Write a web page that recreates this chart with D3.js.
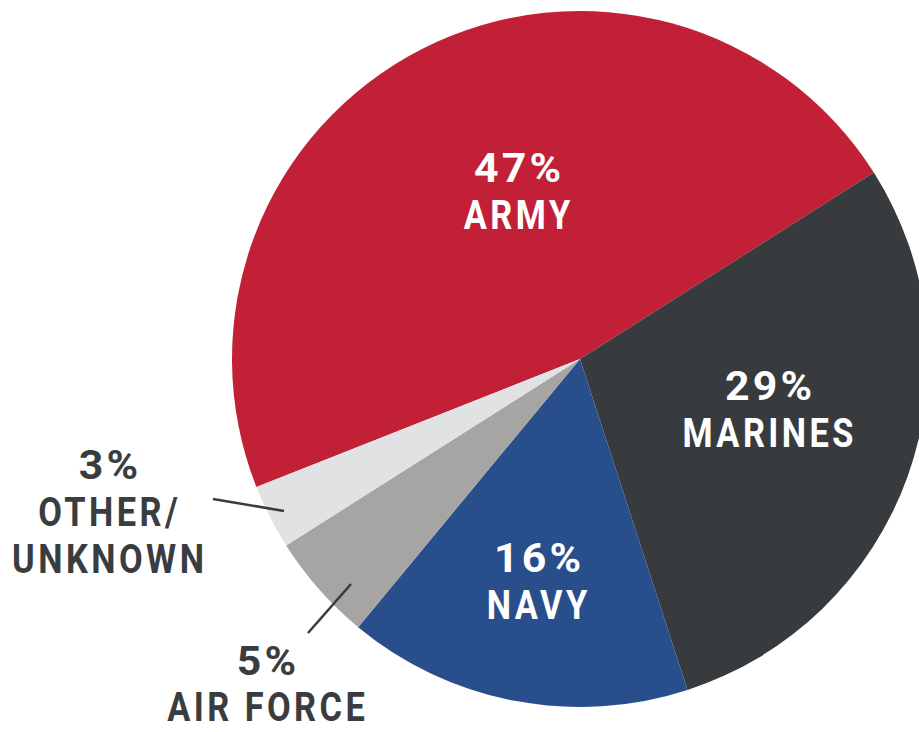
<!DOCTYPE html>
<html>
<head>
<meta charset="utf-8">
<script src="https://cdn.jsdelivr.net/npm/d3@7"></script>
<style>
  html, body { margin: 0; padding: 0; background: #ffffff; }
  svg { display: block; }
  text { font-family: Roboto, "DejaVu Sans", sans-serif; font-weight: 700; }
</style>
</head>
<body>
<svg id="chart" width="919" height="732"></svg>
<script>
// ---- data ----
const categories = ["ARMY", "MARINES", "NAVY", "AIR FORCE", "OTHER/UNKNOWN"];
const values = [47, 29, 16, 5, 3];
const percentLabels = ["47%", "29%", "16%", "5%", "3%"];
const nameLines = [["ARMY"], ["MARINES"], ["NAVY"], ["AIR FORCE"], ["OTHER/", "UNKNOWN"]];

// ---- styles / layout ----
const colors = ["#C12037", "#383B3E", "#294E8C", "#A6A5A3", "#E1E2E4"];
const width = 919, height = 732;
const cx = 580, cy = 359, radius = 348;
const startDeg = -111.6;
const darkText = "#3A3D40";
// label anchor (centre x, baseline of first line) and line gap for each slice
const labelLayout = [
  { x: 517, y: 182, gap: 47, fill: "#ffffff" },
  { x: 768, y: 400, gap: 47, fill: "#ffffff" },
  { x: 537, y: 572, gap: 47, fill: "#ffffff" },
  { x: 266, y: 675, gap: 46, fill: darkText },
  { x: 108, y: 479, gap: 47, fill: darkText }
];
// leader lines for outside labels
const leaders = [
  { i: 3, x1: 308, y1: 633, x2: 351, y2: 584 },
  { i: 4, x1: 213, y1: 499, x2: 284, y2: 511 }
];
const fontSize = 40;
const squeeze = 0.86;

const svg = d3.select("#chart");
const g = svg.append("g").attr("transform", `translate(${cx},${cy})`);

const pie = d3.pie().sort(null)
  .startAngle(startDeg * Math.PI / 180)
  .endAngle(startDeg * Math.PI / 180 + 2 * Math.PI);
const arcs = pie(values);
const arc = d3.arc().innerRadius(0).outerRadius(radius);

g.selectAll("path.slice")
  .data(arcs)
  .join("path")
  .attr("class", "slice")
  .attr("d", arc)
  .attr("fill", (d, i) => colors[i]);

// leader lines
svg.selectAll("line.leader")
  .data(leaders)
  .join("line")
  .attr("class", "leader")
  .attr("x1", d => d.x1).attr("y1", d => d.y1)
  .attr("x2", d => d.x2).attr("y2", d => d.y2)
  .attr("stroke", darkText)
  .attr("stroke-width", 2.6);

// labels
categories.forEach((c, i) => {
  const L = labelLayout[i];
  const lines = [percentLabels[i]].concat(nameLines[i]);
  lines.forEach((t, k) => {
    const isPct = k === 0;
    svg.append("g")
      .attr("transform", `translate(${L.x},${L.y + k * L.gap}) scale(${isPct ? 1.07 : squeeze},1)`)
      .append("text")
      .attr("x", 2)
      .attr("y", 0)
      .attr("text-anchor", "middle")
      .attr("font-size", fontSize)
      .attr("letter-spacing", isPct ? 3 : 4)
      .attr("fill", L.fill)
      .text(t);
  });
});
</script>
</body>
</html>
